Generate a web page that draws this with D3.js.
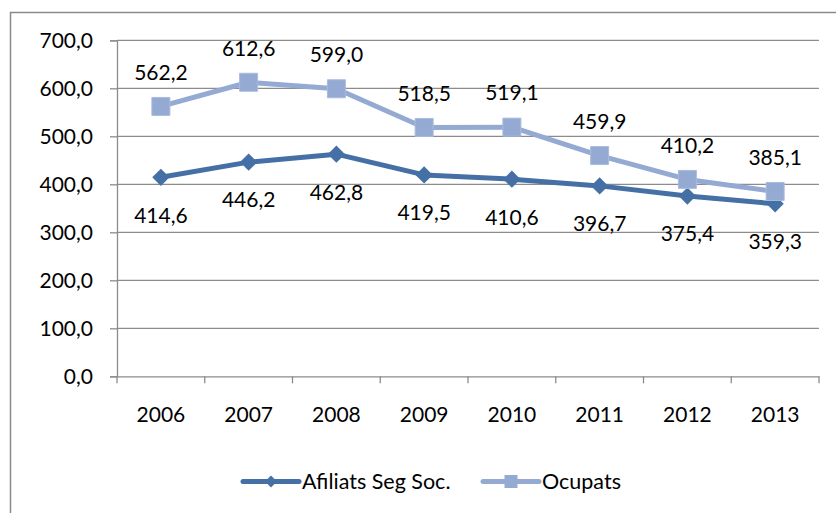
<!DOCTYPE html>
<html>
<head>
<meta charset="utf-8">
<script src="https://cdn.jsdelivr.net/npm/d3@7"></script>
<style>
  html, body { margin: 0; padding: 0; background: #fff; }
  svg { display: block; }
  text { font-family: Lato, "Open Sans", sans-serif; fill: #000; }
</style>
</head>
<body>
<svg id="chart" width="836" height="513"></svg>
<script>
// Years on the category axis
const years = ["2006", "2007", "2008", "2009", "2010", "2011", "2012", "2013"];
// Social-security affiliates (thousands)
const afiliats = [414.6, 446.2, 462.8, 419.5, 410.6, 396.7, 375.4, 359.3];
// Employed people (thousands)
const ocupats = [562.2, 612.6, 599.0, 518.5, 519.1, 459.9, 410.2, 385.1];
// Value-axis ticks
const yTicks = [0, 100, 200, 300, 400, 500, 600, 700];
const seriesNames = ["Afiliats Seg Soc.", "Ocupats"];

const svg = d3.select("#chart");
const W = 836, H = 513;
const margin = { left: 117, right: 17, top: 40.3, bottom: 136.7 };
const fmt = v => d3.format(".1f")(v).replace(".", ",");

const colAf = "#4470A6";
const colOc = "#94AAD3";
const gridCol = "#8C8C8C";

// outer chart frame (runs past the right and bottom edges)
svg.append("rect")
  .attr("x", 10.5).attr("y", 12.5)
  .attr("width", 860).attr("height", 540)
  .attr("fill", "none").attr("stroke", "#8A8A8A").attr("stroke-width", 1.5);

const x = d3.scaleBand().domain(years)
  .range([margin.left, W - margin.right]).paddingInner(0).paddingOuter(0);
const y = d3.scaleLinear().domain([0, 700])
  .range([H - margin.bottom, margin.top]);

// horizontal gridlines
svg.append("g").selectAll("line").data(yTicks.filter(d => d > 0)).join("line")
  .attr("x1", margin.left).attr("x2", W - margin.right)
  .attr("y1", d => y(d)).attr("y2", d => y(d))
  .attr("stroke", gridCol).attr("stroke-width", 1.3);

// value axis
const yAxis = svg.append("g")
  .attr("transform", `translate(${margin.left},0)`)
  .call(d3.axisLeft(y).tickValues(yTicks).tickFormat(fmt).tickSize(7).tickPadding(17));
yAxis.select(".domain").attr("stroke", gridCol).attr("stroke-width", 1.3);
yAxis.selectAll(".tick line").attr("stroke", gridCol).attr("stroke-width", 1.3);
yAxis.selectAll("text").attr("font-size", 21).attr("font-family", "Lato").attr("fill", "#000").attr("dy", "0.35em");

// category axis
const xAxis = svg.append("g")
  .attr("transform", `translate(0,${y(0)})`)
  .call(d3.axisBottom(x).tickSizeOuter(0).tickSize(0).tickPadding(31));
xAxis.select(".domain").attr("stroke", gridCol).attr("stroke-width", 1.3);
xAxis.selectAll("text").attr("font-size", 21).attr("font-family", "Lato").attr("fill", "#000");
// tick marks between categories
const bounds = years.map(d => x(d)).concat([x(years[years.length - 1]) + x.bandwidth()]);
xAxis.append("g").selectAll("line").data(bounds).join("line")
  .attr("x1", d => d).attr("x2", d => d)
  .attr("y1", 0).attr("y2", 7)
  .attr("stroke", gridCol).attr("stroke-width", 1.3);

const cx = d => x(d) + x.bandwidth() / 2;

function drawSeries(vals, color, shape, labelDy) {
  const pts = years.map((yr, i) => ({ yr, v: vals[i] }));
  const line = d3.line().x(d => cx(d.yr)).y(d => y(d.v));
  svg.append("path").datum(pts)
    .attr("d", line).attr("fill", "none")
    .attr("stroke", color).attr("stroke-width", 5).attr("stroke-linejoin", "round");
  const sym = d3.symbol().type(shape === "square" ? d3.symbolSquare : d3.symbolDiamond2)
    .size(shape === "square" ? 18 * 18 : 190);
  svg.append("g").selectAll("path").data(pts).join("path")
    .attr("d", sym)
    .attr("transform", d => `translate(${cx(d.yr)},${y(d.v)})`)
    .attr("fill", color)
    .attr("stroke", shape === "square" ? "#A9BBDD" : "none").attr("stroke-width", 1);
  svg.append("g").selectAll("text").data(pts).join("text")
    .attr("x", d => cx(d.yr)).attr("y", d => y(d.v) + labelDy)
    .attr("text-anchor", "middle").attr("dy", "0.35em")
    .attr("font-size", 21)
    .text(d => fmt(d.v));
}

drawSeries(afiliats, colAf, "diamond", 38);
drawSeries(ocupats, colOc, "square", -34);

// legend
const legY = 481.5;
const leg = svg.append("g");
function legendItem(x0, color, shape, label) {
  leg.append("line").attr("x1", x0).attr("x2", x0 + 56)
    .attr("y1", legY).attr("y2", legY)
    .attr("stroke", color).attr("stroke-width", 5).attr("stroke-linecap", "round");
  const sym = d3.symbol().type(shape === "square" ? d3.symbolSquare : d3.symbolDiamond2)
    .size(shape === "square" ? 13 * 13 : 90);
  leg.append("path").attr("d", sym)
    .attr("transform", `translate(${x0 + 28},${legY})`)
    .attr("fill", color);
  leg.append("text").attr("x", x0 + 59).attr("y", legY).attr("dy", "0.35em")
    .attr("font-size", 21.5).text(label);
}
legendItem(243, colAf, "diamond", seriesNames[0]);
legendItem(483, colOc, "square", seriesNames[1]);
</script>
</body>
</html>
